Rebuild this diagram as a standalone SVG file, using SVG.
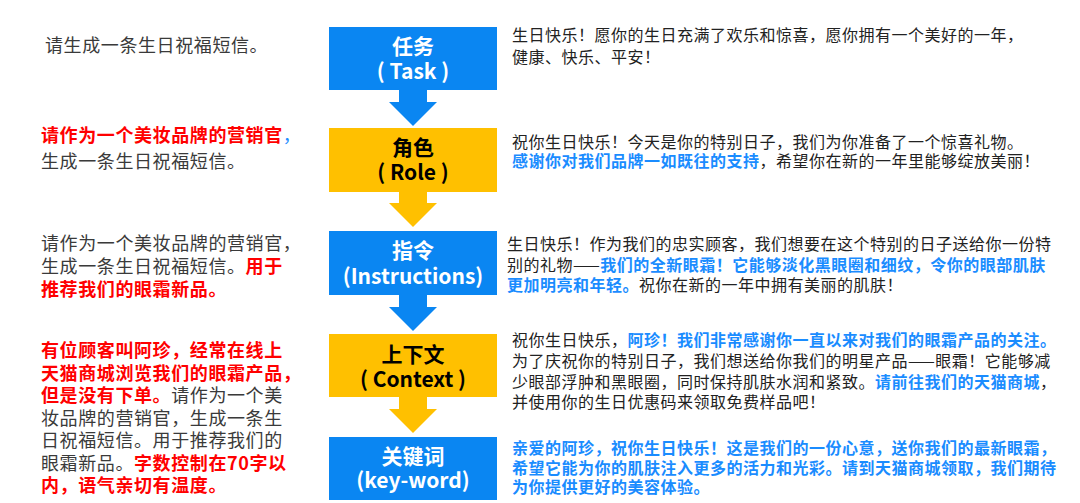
<svg xmlns="http://www.w3.org/2000/svg" width="1080" height="503" viewBox="0 0 1080 503">
<style>
text{font-family:"Microsoft YaHei","Noto Sans CJK SC","Noto Sans",sans-serif;}
.bt{font-size:21px;font-weight:bold;text-anchor:middle;}
.w{fill:#ffffff;}
.k{fill:#000000;}
.lt{font-size:18px;fill:#3a3a3a;letter-spacing:0.6px;}
.rt{font-size:16px;fill:#222222;letter-spacing:0.5px;}
.red{fill:#ff0000;font-weight:bold;}
.blu{fill:#1a8cff;font-weight:bold;}
.blue-box{fill:#0a86f2;}
.gold-box{fill:#ffc000;}
</style>
<rect width="1080" height="503" fill="#ffffff"/>
<g id="connectors">
<polygon class="blue-box" points="399,90 427,90 427,102 437,102 413,126 389,102 399,102"/>
<polygon class="gold-box" points="399,192 427,192 427,203 437,203 413,227 389,203 399,203"/>
<polygon class="blue-box" points="399,295 427,295 427,307 437,307 413,331 389,307 399,307"/>
<polygon class="gold-box" points="399,397 427,397 427,409 437,409 413,433 389,409 399,409"/>
</g>
<g id="node-task">
<rect class="blue-box" x="329" y="27" width="168" height="63"/>
<text class="bt w" x="413" y="54">任务</text>
<text class="bt w" x="413" y="79">( Task )</text>
</g>
<g id="node-role">
<rect class="gold-box" x="329" y="128" width="168" height="64"/>
<text class="bt k" x="413" y="155">角色</text>
<text class="bt k" x="413" y="180">( Role )</text>
</g>
<g id="node-instructions">
<rect class="blue-box" x="329" y="231" width="168" height="64"/>
<text class="bt w" x="413" y="258">指令</text>
<text class="bt w" x="413" y="284">(Instructions)</text>
</g>
<g id="node-context">
<rect class="gold-box" x="329" y="334" width="168" height="63"/>
<text class="bt k" x="413" y="362">上下文</text>
<text class="bt k" x="413" y="387">( Context )</text>
</g>
<g id="node-keyword">
<rect class="blue-box" x="329" y="437" width="168" height="63"/>
<text class="bt w" x="413" y="464">关键词</text>
<text class="bt w" x="413" y="488">(key-word)</text>
</g>
<g id="prompt-1">
<text class="lt" x="45" y="52">请生成一条生日祝福短信。</text>
</g>
<g id="prompt-2">
<text class="lt" x="41" y="142"><tspan class="red">请作为一个美妆品牌的营销官</tspan><tspan fill="#1a8cff">，</tspan></text>
<text class="lt" x="41" y="168">生成一条生日祝福短信。</text>
</g>
<g id="prompt-3">
<text class="lt" x="41" y="250">请作为一个美妆品牌的营销官，</text>
<text class="lt" x="41" y="273">生成一条生日祝福短信。<tspan class="red">用于</tspan></text>
<text class="lt" x="41" y="296"><tspan class="red">推荐我们的眼霜新品。</tspan></text>
</g>
<g id="prompt-4">
<text class="lt" x="41" y="357"><tspan class="red">有位顾客叫阿珍，经常在线上</tspan></text>
<text class="lt" x="41" y="379.5"><tspan class="red">天猫商城浏览我们的眼霜产品，</tspan></text>
<text class="lt" x="41" y="402"><tspan class="red">但是没有下单。</tspan>请作为一个美</text>
<text class="lt" x="41" y="424.5">妆品牌的营销官，生成一条生</text>
<text class="lt" x="41" y="447">日祝福短信。用于推荐我们的</text>
<text class="lt" x="41" y="469.5">眼霜新品。<tspan class="red">字数控制在70字以</tspan></text>
<text class="lt" x="41" y="492"><tspan class="red">内，语气亲切有温度。</tspan></text>
</g>
<g id="output-1">
<text class="rt" x="512" y="41">生日快乐！愿你的生日充满了欢乐和惊喜，愿你拥有一个美好的一年，</text>
<text class="rt" x="512" y="63">健康、快乐、平安！</text>
</g>
<g id="output-2">
<text class="rt" x="512" y="148">祝你生日快乐！今天是你的特别日子，我们为你准备了一个惊喜礼物。</text>
<text class="rt" x="512" y="167"><tspan class="blu">感谢你对我们品牌一如既往的支持</tspan>，希望你在新的一年里能够绽放美丽！</text>
</g>
<g id="output-3">
<text class="rt" x="507" y="250">生日快乐！作为我们的忠实顾客，我们想要在这个特别的日子送给你一份特</text>
<text class="rt" x="507" y="271">别的礼物——<tspan class="blu">我们的全新眼霜！它能够淡化黑眼圈和细纹，令你的眼部肌肤</tspan></text>
<text class="rt" x="507" y="291"><tspan class="blu">更加明亮和年轻。</tspan>祝你在新的一年中拥有美丽的肌肤！</text>
</g>
<g id="output-4">
<text class="rt" x="512" y="346">祝你生日快乐，<tspan class="blu">阿珍！我们非常感谢你一直以来对我们的眼霜产品的关注。</tspan></text>
<text class="rt" x="512" y="367">为了庆祝你的特别日子，我们想送给你我们的明星产品——眼霜！它能够减</text>
<text class="rt" x="512" y="388">少眼部浮肿和黑眼圈，同时保持肌肤水润和紧致。<tspan class="blu">请前往我们的天猫商城</tspan>，</text>
<text class="rt" x="512" y="408">并使用你的生日优惠码来领取免费样品吧！</text>
</g>
<g id="output-5">
<text class="rt" x="512" y="454"><tspan class="blu">亲爱的阿珍，祝你生日快乐！这是我们的一份心意，送你我们的最新眼霜，</tspan></text>
<text class="rt" x="512" y="474"><tspan class="blu">希望它能为你的肌肤注入更多的活力和光彩。请到天猫商城领取，我们期待</tspan></text>
<text class="rt" x="512" y="493"><tspan class="blu">为你提供更好的美容体验。</tspan></text>
</g>
</svg>
